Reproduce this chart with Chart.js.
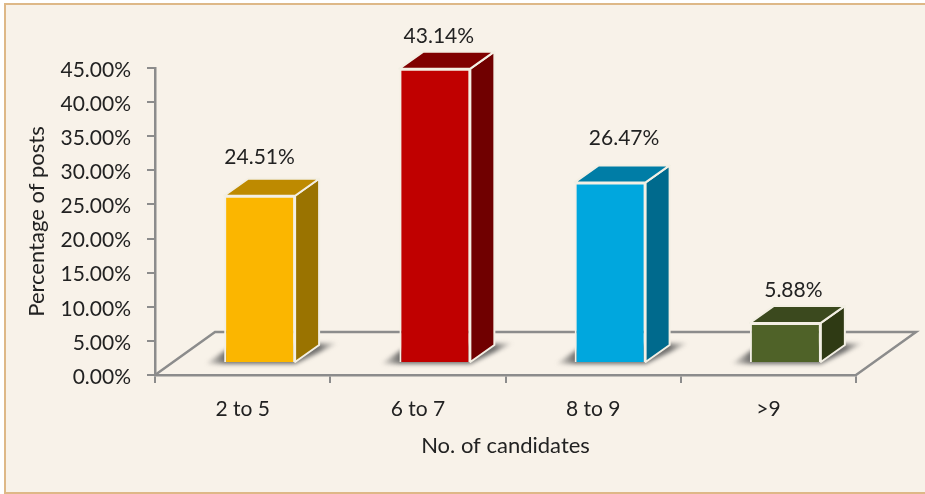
<!DOCTYPE html>
<html>
<head>
<meta charset="utf-8">
<title>Percentage of posts by number of candidates</title>
<script src="https://cdn.jsdelivr.net/npm/chart.js@4"></script>
<style>
    html, body { margin: 0; padding: 0; background: #ffffff; }
    #frame {
        position: absolute;
        left: 4px; top: 3px; width: 921px; height: 491px;
        box-sizing: border-box;
        background: #f8f2e9;
        border: solid #deb887;
        border-width: 2px 0 2px 2px;
    }
    #wrap { position: absolute; left: 0; top: 0; width: 925px; height: 494px; }
</style>
</head>
<body>
<div id="frame"></div>
<div id="wrap"><canvas id="chart"></canvas></div>
<script>
const categories = ['2 to 5', '6 to 7', '8 to 9', '>9'];
const values = [24.51, 43.14, 26.47, 5.88];
const frontColors = ['#fbb600', '#c00000', '#00a7de', '#4f6228'];
const topColors = ['#be8a00', '#800000', '#007da6', '#3b491e'];
const sideColors = ['#9a7300', '#700000', '#006a8d', '#2f3a14'];
// the value labels do not sit evenly above the bars in the picture
const labelShiftX = [0, 4, 14, 8];
const labelLift = [39, 32, 44, 33];

const INK = '#222222';
const AXIS = '#8c8c8c';
const EDGE = '#f3efe4';
const FONT = 'Lato';

// Depth of the floor and of the bars, and where the front faces sit on the floor
const floorDepth = { x: 60, y: -43 };
const barDepth = { x: 24, y: -17 };
const barShift = { x: 17, y: -12 };

function poly(ctx, pts, fill, stroke) {
    ctx.beginPath();
    pts.forEach((p, i) => i ? ctx.lineTo(p[0], p[1]) : ctx.moveTo(p[0], p[1]));
    ctx.closePath();
    if (fill) {
        ctx.fillStyle = fill;
        ctx.fill();
    }
    if (stroke) {
        ctx.strokeStyle = stroke;
        ctx.stroke();
    }
}

const fake3d = {
    id: 'fake3d',
    // Floor and bar shadows go under everything
    beforeDatasetsDraw(chart) {
        const { ctx, chartArea: a } = chart;
        ctx.save();
        ctx.lineWidth = 2.5;
        ctx.strokeStyle = AXIS;
        ctx.beginPath();
        ctx.moveTo(a.left, a.bottom);
        ctx.lineTo(a.left + floorDepth.x, a.bottom + floorDepth.y);
        ctx.lineTo(a.right + floorDepth.x, a.bottom + floorDepth.y);
        ctx.lineTo(a.right, a.bottom);
        ctx.stroke();

        chart.getDatasetMeta(0).data.forEach(bar => {
            const l = bar.x - bar.width / 2 + barShift.x;
            const r = bar.x + bar.width / 2 + barShift.x;
            const b = bar.base + barShift.y;
            const x0 = l - 19;
            const x1 = r + barDepth.x + 19;
            const g = ctx.createLinearGradient(x0, 0, x1, 0);
            g.addColorStop(0, 'rgba(80, 80, 80, 0)');
            g.addColorStop((l - x0) / (x1 - x0), 'rgba(80, 80, 80, 0.8)');
            g.addColorStop((r + barDepth.x - x0) / (x1 - x0), 'rgba(80, 80, 80, 0.8)');
            g.addColorStop(1, 'rgba(80, 80, 80, 0)');
            ctx.save();
            ctx.filter = 'blur(2px)';
            poly(ctx, [
                [x0, b + 2], [l + 8, b - 16],
                [x1, b + barDepth.y - 2], [r, b + 2]
            ], g);
            ctx.restore();
        });
        ctx.restore();
    },
    // Side and top faces, then the library's bar is drawn shifted onto the floor
    beforeDatasetDraw(chart) {
        const { ctx } = chart;
        ctx.save();
        ctx.translate(barShift.x, barShift.y);
        ctx.lineWidth = 2;
        ctx.lineJoin = 'round';
        chart.getDatasetMeta(0).data.forEach((bar, i) => {
            const l = bar.x - bar.width / 2;
            const r = bar.x + bar.width / 2;
            const dx = barDepth.x;
            const dy = barDepth.y;
            poly(ctx, [[r, bar.y], [r + dx, bar.y + dy], [r + dx, bar.base + dy], [r, bar.base]], sideColors[i], EDGE);
            poly(ctx, [[l, bar.y], [l + dx, bar.y + dy], [r + dx, bar.y + dy], [r, bar.y]], topColors[i], EDGE);
        });
    },
    afterDatasetDraw(chart) {
        const { ctx } = chart;
        ctx.restore();
        ctx.save();
        ctx.font = '21px ' + FONT;
        ctx.fillStyle = INK;
        ctx.textAlign = 'center';
        ctx.textBaseline = 'middle';
        chart.getDatasetMeta(0).data.forEach((bar, i) => {
            ctx.fillText(values[i].toFixed(2) + '%',
                bar.x + barShift.x + labelShiftX[i],
                bar.y + barShift.y - labelLift[i]);
        });
        ctx.restore();
    }
};

new Chart(document.getElementById('chart').getContext('2d'), {
    type: 'bar',
    data: {
        labels: categories,
        datasets: [{
            data: values,
            backgroundColor: frontColors,
            borderColor: EDGE,
            borderWidth: 2,
            categoryPercentage: 1,
            barPercentage: 0.405
        }]
    },
    plugins: [fake3d],
    options: {
        responsive: true,
        maintainAspectRatio: false,
        animation: false,
        layout: { padding: { left: 20, top: 68, right: 69, bottom: 35 } },
        plugins: {
            legend: { display: false },
            tooltip: { enabled: false }
        },
        scales: {
            x: {
                afterFit(axis) { axis.height = 84; },
                grid: { drawOnChartArea: false, color: AXIS, tickLength: 8, lineWidth: 2 },
                border: { color: AXIS, width: 2.5 },
                ticks: { color: INK, font: { family: FONT, size: 21 }, padding: 14, maxRotation: 0 },
                title: {
                    display: true,
                    text: 'No. of candidates',
                    color: INK,
                    font: { family: FONT, size: 22 },
                    padding: { top: 13, bottom: 0 }
                }
            },
            y: {
                min: 0,
                max: 45,
                afterFit(axis) { axis.width = 135; },
                grid: { drawOnChartArea: false, color: AXIS, tickLength: 8, lineWidth: 2 },
                border: { color: AXIS, width: 2.5 },
                ticks: {
                    stepSize: 5,
                    color: INK,
                    font: { family: FONT, size: 21 },
                    padding: 16,
                    labelOffset: 2,
                    callback: v => v.toFixed(2) + '%'
                },
                title: {
                    display: true,
                    text: 'Percentage of posts',
                    color: INK,
                    font: { family: FONT, size: 22 }
                }
            }
        }
    }
});
</script>
</body>
</html>
